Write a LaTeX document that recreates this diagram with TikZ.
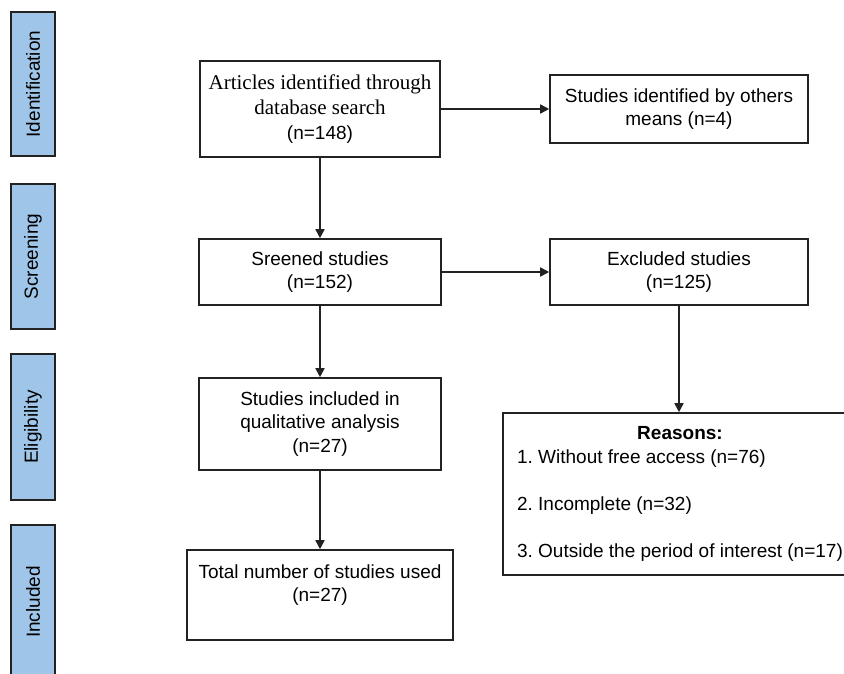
\documentclass[tikz,border=0pt]{standalone}
\usepackage{fontspec}
\setmainfont{Liberation Serif}
\setsansfont{Liberation Sans}
\usetikzlibrary{arrows.meta}
\definecolor{stageblue}{HTML}{9FC5E8}
\definecolor{edgegrey}{HTML}{222222}
\newcommand{\sansfont}{\sffamily\fontsize{19}{23.5}\selectfont\frenchspacing}
\newcommand{\serifont}{\rmfamily\fontsize{21}{25}\selectfont\frenchspacing}
\newcommand{\makestage}[4]{
	\node[stage, minimum width=#3pt] (#1) at (33,#2) {#4};
}

\begin{document}
\begin{tikzpicture}[x=1pt,y=-1pt,
	stage/.style={draw=edgegrey, line width=1.6pt, fill=stageblue, rotate=90, minimum height=44pt, inner sep=0pt, font=\sansfont},
	flowbox/.style={draw=edgegrey, line width=1.6pt, align=center, inner sep=0pt, font=\sansfont},
	link/.style={draw=edgegrey, line width=1.6pt, -{Triangle[length=9pt,width=9pt]}}]
	\useasboundingbox (0,0) rectangle (844,673);

	\makestage{ident}{84}{144}{Identification}
	\makestage{screen}{256.5}{145}{Screening}
	\makestage{elig}{427}{146}{Eligibility}
	\makestage{incl}{602}{154}{Included}

	\node[flowbox, minimum width=240pt, minimum height=96pt, font=\serifont] (search) at (320,109) {Articles identified through\\database search\\{\sansfont (n=148)}};
	\node[flowbox, minimum width=258pt, minimum height=68pt] (others) at (679,109) {Studies identified by others\\means (n=4)};
	\node[flowbox, minimum width=242pt, minimum height=66pt] (screened) at (320,272) {Sreened studies\\(n=152)};
	\node[flowbox, minimum width=258pt, minimum height=66pt] (excluded) at (679,272) {Excluded studies\\(n=125)};
	\node[flowbox, minimum width=242pt, minimum height=92pt] (included) at (320,424) {Studies included in\\qualitative analysis\\(n=27)};
	\node[flowbox, minimum width=266pt, minimum height=90pt] (total) at (320,595) {Total number of studies used\\(n=27)\\\mbox{}};
	\node[flowbox, minimum width=354pt, minimum height=162pt] (reasons) at (680,494) {\begin{tabular}{@{}l@{}}
		\multicolumn{1}{@{}c@{}}{\textbf{Reasons:}}\\
		1. Without free access (n=76)\\[23.5pt]
		2. Incomplete (n=32)\\[23.5pt]
		3. Outside the period of interest (n=17)
	\end{tabular}};

	\draw[link] (search.east) -- (others.west);
	\draw[link] (search) -- (screened);
	\draw[link] (screened) -- (excluded);
	\draw[link] (screened) -- (included);
	\draw[link] (included) -- (total);
	\draw[link] (excluded.south) -- (excluded.south |- reasons.north);
\end{tikzpicture}
\end{document}
